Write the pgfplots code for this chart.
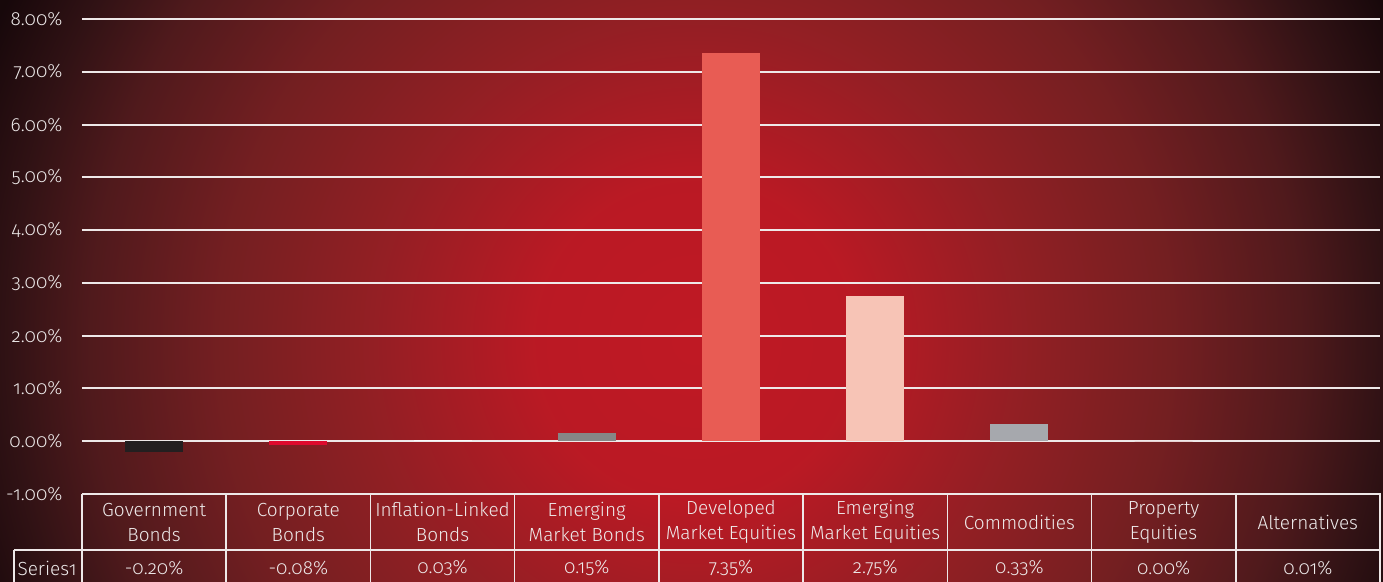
\documentclass[border=0pt]{standalone}
\usepackage{pgfplots}
\pgfplotsset{compat=1.18}
\usepackage{fontspec}
\setmainfont{Fira Sans Light}[Numbers=OldStyle]
\definecolor{txt}{RGB}{238,234,234}
\definecolor{gl}{RGB}{238,232,232}
\definecolor{cGov}{RGB}{35,31,32}
\definecolor{cCorp}{RGB}{222,10,45}
\definecolor{cInf}{RGB}{250,250,250}
\definecolor{cEMB}{RGB}{134,134,134}
\definecolor{cDME}{RGB}{232,92,84}
\definecolor{cEME}{RGB}{247,196,182}
\definecolor{cCom}{RGB}{166,168,173}
\definecolor{cAlt}{RGB}{200,60,60}
\pgfdeclareradialshading{bg}{\pgfpoint{0bp}{0bp}}{%
 rgb(0bp)=(0.75,0.10,0.14);
 rgb(5bp)=(0.73,0.10,0.14);
 rgb(10bp)=(0.58,0.12,0.14);
 rgb(15bp)=(0.45,0.12,0.13);
 rgb(19bp)=(0.31,0.10,0.11);
 rgb(21.5bp)=(0.19,0.07,0.08);
 rgb(24bp)=(0.09,0.03,0.04);
 rgb(50bp)=(0.08,0.03,0.04)}
\begin{document}
\begin{tikzpicture}
\useasboundingbox (0,0) rectangle (1383pt,581pt);
\begin{scope}
\clip (0,0) rectangle (1383pt,581pt);
\shade[shading=bg] (695pt,240pt) circle (800pt);
\end{scope}
\begin{axis}[
  at={(82pt,87pt)}, anchor=south west,
  scale only axis, width=1298pt, height=475pt,
  xmin=-0.5, xmax=8.5, ymin=-1, ymax=8,
  axis line style={draw=none},
  major tick length=0pt,
  ytick={0,1,...,8},
  extra y ticks={-1}, extra y tick style={grid=none},
  ymajorgrids, grid style={gl, line width=2pt},
  xtick={0,...,8},
  xticklabels={{Government\\Bonds},{Corporate\\Bonds},{Inflation-Linked\\Bonds},{Emerging\\Market Bonds},{Developed\\Market Equities},{Emerging\\Market Equities},{Commodities},{Property\\Equities},{Alternatives}},
  xticklabel style={align=center, anchor=center, yshift=-28pt, text=txt, font=\fontsize{19}{25}\selectfont},
  yticklabel style={text=txt, font=\fontsize{19}{20}\selectfont, xshift=-16pt},
  yticklabel={\pgfmathprintnumber[fixed,fixed zerofill,precision=2,assume math mode=true]{\tick}\%},
  ybar, bar width=58pt, bar shift=0pt,
  clip=false,
]
\addplot[fill=cGov, draw=none] coordinates {(0,-0.20)};
\addplot[fill=cCorp, draw=none] coordinates {(1,-0.08)};
\addplot[fill=cInf, draw=none] coordinates {(2,0.03)};
\addplot[fill=cEMB, draw=none] coordinates {(3,0.15)};
\addplot[fill=cDME, draw=none] coordinates {(4,7.35)};
\addplot[fill=cEME, draw=none] coordinates {(5,2.75)};
\addplot[fill=cCom, draw=none] coordinates {(6,0.33)};
\addplot[fill=cAlt, draw=none] coordinates {(7,0.00)};
\addplot[fill=gl, draw=none] coordinates {(8,0.01)};
\end{axis}
\begin{scope}[line width=1.6pt, draw=gl]
\draw (82pt,87pt) -- (1381pt,87pt);
\draw (14pt,31pt) -- (1381pt,31pt);
\draw (14pt,31pt) -- (14pt,-5pt);
\foreach \k in {0,...,9} \draw ({(82+\k*144.222)*1pt},87pt) -- ({(82+\k*144.222)*1pt},-5pt);
\end{scope}
\node[text=txt, font=\fontsize{19}{20}\selectfont] at (47pt,13pt) {Series1};
\foreach \k/\v in {0/-0.20\%,1/-0.08\%,2/0.03\%,3/0.15\%,4/7.35\%,5/2.75\%,6/0.33\%,7/0.00\%,8/0.01\%}
  \node[text=txt, font=\fontsize{19}{20}\selectfont] at ({(154.1+\k*144.222)*1pt},13pt) {\v};
\end{tikzpicture}
\end{document}
